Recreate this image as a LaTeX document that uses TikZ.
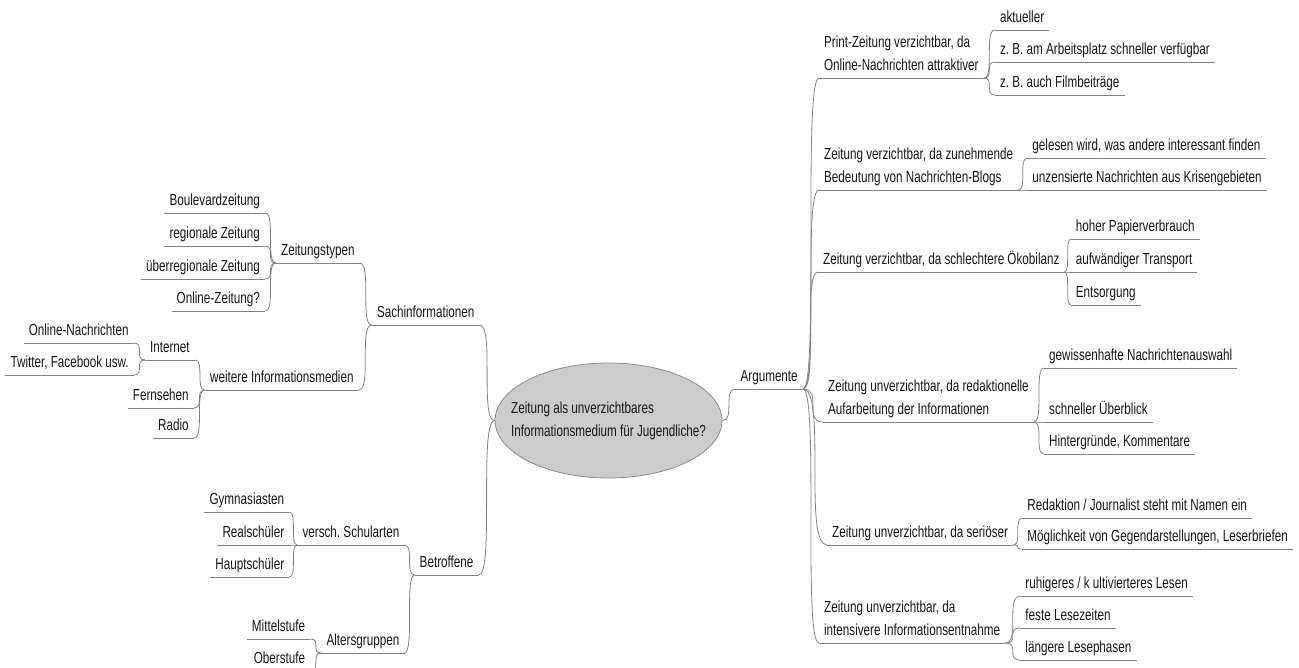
\documentclass[tikz,border=0pt]{standalone}
\usepackage{fontspec}
\setmainfont{Liberation Sans}[FakeStretch=0.73]
\usetikzlibrary{shapes.geometric,calc}

\definecolor{txt}{RGB}{22,22,22}
\definecolor{branchgray}{RGB}{130,130,130}
\definecolor{ellfill}{RGB}{204,204,204}
\definecolor{ellline}{RGB}{140,140,140}

\newcommand\mapfont{\fontsize{16}{23}\selectfont\frenchspacing}

\begin{document}
\begin{tikzpicture}[x=1pt,y=-1pt,
  uline/.style={draw=branchgray, line width=0.8pt},
  topic/.style={font=\mapfont, text=txt, inner xsep=5pt, inner ysep=2.5pt,
    text depth=4.5pt, align=left,
    append after command={(\tikzlastnode.south west) edge[uline] (\tikzlastnode.south east)}},
  rtopic/.style={topic, anchor=south west},
  ltopic/.style={topic, anchor=south east},
  branch/.style={draw=branchgray, line width=0.8pt,
    to path={(\tikztostart) .. controls (\tikztotarget|-\tikztostart)
      and (\tikztostart|-\tikztotarget) .. (\tikztotarget)}},
]
\useasboundingbox (0,0) rectangle (1299,667);
\clip (0,0) rectangle (1299,667);

% central topic (negative inner sep keeps the ellipse at its fixed size)
\node[ellipse, draw=ellline, fill=ellfill, line width=0.8pt,
  minimum width=227pt, minimum height=115pt, inner xsep=-40pt, inner ysep=-8pt,
  font=\mapfont, text=txt, align=left] (root) at (608.5,420.5)
  {Zeitung als unverzichtbares\\Informationsmedium für Jugendliche?};

% ---------------- right side: Argumente ----------------
\node[rtopic] (arg) at ($(root.east |- 0,389)+(13,0)$) {Argumente};

\node[rtopic] (p1) at ($(arg.south east |- 0,78)+(16,0)$)
  {Print-Zeitung verzichtbar, da\\Online-Nachrichten attraktiver};
\node[rtopic] (p2) at ($(arg.south east |- 0,190)+(16,0)$)
  {Zeitung verzichtbar, da zunehmende\\Bedeutung von Nachrichten-Blogs};
\node[rtopic] (p3) at ($(arg.south east |- 0,272)+(15,0)$)
  {Zeitung verzichtbar, da schlechtere Ökobilanz};
\node[rtopic] (p4) at ($(arg.south east |- 0,422)+(20,0)$)
  {Zeitung unverzichtbar, da redaktionelle\\Aufarbeitung der Informationen};
\node[rtopic] (p5) at ($(arg.south east |- 0,545)+(24,0)$)
  {Zeitung unverzichtbar, da seriöser};
\node[rtopic] (p6) at ($(arg.south east |- 0,643)+(16,0)$)
  {Zeitung unverzichtbar, da\\intensivere Informationsentnahme};

\node[rtopic] (p1a) at ($(p1.south east |- 0,30)+(11,0)$) {aktueller};
\node[rtopic] (p1b) at ($(p1.south east |- 0,62)+(11,0)$) {z. B. am Arbeitsplatz schneller verfügbar};
\node[rtopic] (p1c) at ($(p1.south east |- 0,95)+(11,0)$) {z. B. auch Filmbeiträge};

\node[rtopic] (p2a) at ($(p2.south east |- 0,158)+(9,0)$) {gelesen wird, was andere interessant finden};
\node[rtopic] (p2b) at ($(p2.south east |- 0,190)+(9,0)$) {unzensierte Nachrichten aus Krisengebieten};

\node[rtopic] (p3a) at ($(p3.south east |- 0,239)+(6,0)$) {hoher Papierverbrauch};
\node[rtopic] (p3b) at ($(p3.south east |- 0,272)+(6,0)$) {aufwändiger Transport};
\node[rtopic] (p3c) at ($(p3.south east |- 0,305)+(6,0)$) {Entsorgung};

\node[rtopic] (p4a) at ($(p4.south east |- 0,368)+(10,0)$) {gewissenhafte Nachrichtenauswahl};
\node[rtopic] (p4b) at ($(p4.south east |- 0,422)+(10,0)$) {schneller Überblick};
\node[rtopic] (p4c) at ($(p4.south east |- 0,454)+(10,0)$) {Hintergründe, Kommentare};

\node[rtopic] (p5a) at ($(p5.south east |- 0,518)+(9,0)$) {Redaktion / Journalist steht mit Namen ein};
\node[rtopic] (p5b) at ($(p5.south east |- 0,549)+(9,0)$) {Möglichkeit von Gegendarstellungen, Leserbriefen};

\node[rtopic] (p6a) at ($(p6.south east |- 0,596)+(15,0)$) {ruhigeres / k ultivierteres Lesen};
\node[rtopic] (p6b) at ($(p6.south east |- 0,628)+(15,0)$) {feste Lesezeiten};
\node[rtopic] (p6c) at ($(p6.south east |- 0,660)+(15,0)$) {längere Lesephasen};

% ---------------- left side ----------------
\node[ltopic] (sach) at ($(root.west |- 0,325)+(-15,0)$) {Sachinformationen};
\node[ltopic] (betr) at ($(root.west |- 0,575)+(-16,0)$) {Betroffene};

\node[ltopic] (ztyp) at ($(sach.south west |- 0,263)+(-12,0)$) {Zeitungstypen};
\node[ltopic] (weit) at ($(sach.south west |- 0,390)+(-13,0)$) {weitere Informationsmedien};

\node[ltopic] (z1) at ($(ztyp.south west |- 0,213)+(-11,0)$) {Boulevardzeitung};
\node[ltopic] (z2) at ($(ztyp.south west |- 0,246)+(-11,0)$) {regionale Zeitung};
\node[ltopic] (z3) at ($(ztyp.south west |- 0,279)+(-11,0)$) {überregionale Zeitung};
\node[ltopic] (z4) at ($(ztyp.south west |- 0,311)+(-11,0)$) {Online-Zeitung?};

\node[ltopic] (inet) at ($(weit.south west |- 0,360)+(-10,0)$) {Internet};
\node[ltopic] (tv) at ($(weit.south west |- 0,408)+(-11,0)$) {Fernsehen};
\node[ltopic] (radio) at ($(weit.south west |- 0,438)+(-11,0)$) {Radio};

\node[ltopic] (i1) at ($(inet.south west |- 0,343)+(-11,0)$) {Online-Nachrichten};
\node[ltopic] (i2) at ($(inet.south west |- 0,375)+(-11,0)$) {Twitter, Facebook usw.};

\node[ltopic] (vers) at ($(betr.south west |- 0,545)+(-10,0)$) {versch. Schularten};
\node[ltopic] (alt) at ($(betr.south west |- 0,653)+(-10,0)$) {Altersgruppen};

\node[ltopic] (s1) at ($(vers.south west |- 0,512)+(-8,0)$) {Gymnasiasten};
\node[ltopic] (s2) at ($(vers.south west |- 0,545)+(-8,0)$) {Realschüler};
\node[ltopic] (s3) at ($(vers.south west |- 0,577)+(-8,0)$) {Hauptschüler};

\node[ltopic] (a1) at ($(alt.south west |- 0,639)+(-11,0)$) {Mittelstufe};
\node[ltopic] (a2) at ($(alt.south west |- 0,671)+(-11,0)$) {Oberstufe};

% ---------------- connectors ----------------
\draw[branch] (root.east) to (arg.south west);
\foreach \n in {p1,p2,p3,p4,p5,p6}
  \draw[branch] (arg.south east) to (\n.south west);
\foreach \n in {p1a,p1b,p1c} \draw[branch] (p1.south east) to (\n.south west);
\foreach \n in {p2a,p2b} \draw[branch] (p2.south east) to (\n.south west);
\foreach \n in {p3a,p3b,p3c} \draw[branch] (p3.south east) to (\n.south west);
\foreach \n in {p4a,p4b,p4c} \draw[branch] (p4.south east) to (\n.south west);
\foreach \n in {p5a,p5b} \draw[branch] (p5.south east) to (\n.south west);
\foreach \n in {p6a,p6b,p6c} \draw[branch] (p6.south east) to (\n.south west);

\draw[branch] (root.west) to (sach.south east);
\draw[branch] (root.west) to (betr.south east);
\foreach \n in {ztyp,weit} \draw[branch] (sach.south west) to (\n.south east);
\foreach \n in {z1,z2,z3,z4} \draw[branch] (ztyp.south west) to (\n.south east);
\foreach \n in {inet,tv,radio} \draw[branch] (weit.south west) to (\n.south east);
\foreach \n in {i1,i2} \draw[branch] (inet.south west) to (\n.south east);
\foreach \n in {vers,alt} \draw[branch] (betr.south west) to (\n.south east);
\foreach \n in {s1,s2,s3} \draw[branch] (vers.south west) to (\n.south east);
\foreach \n in {a1,a2} \draw[branch] (alt.south west) to (\n.south east);
\end{tikzpicture}
\end{document}
